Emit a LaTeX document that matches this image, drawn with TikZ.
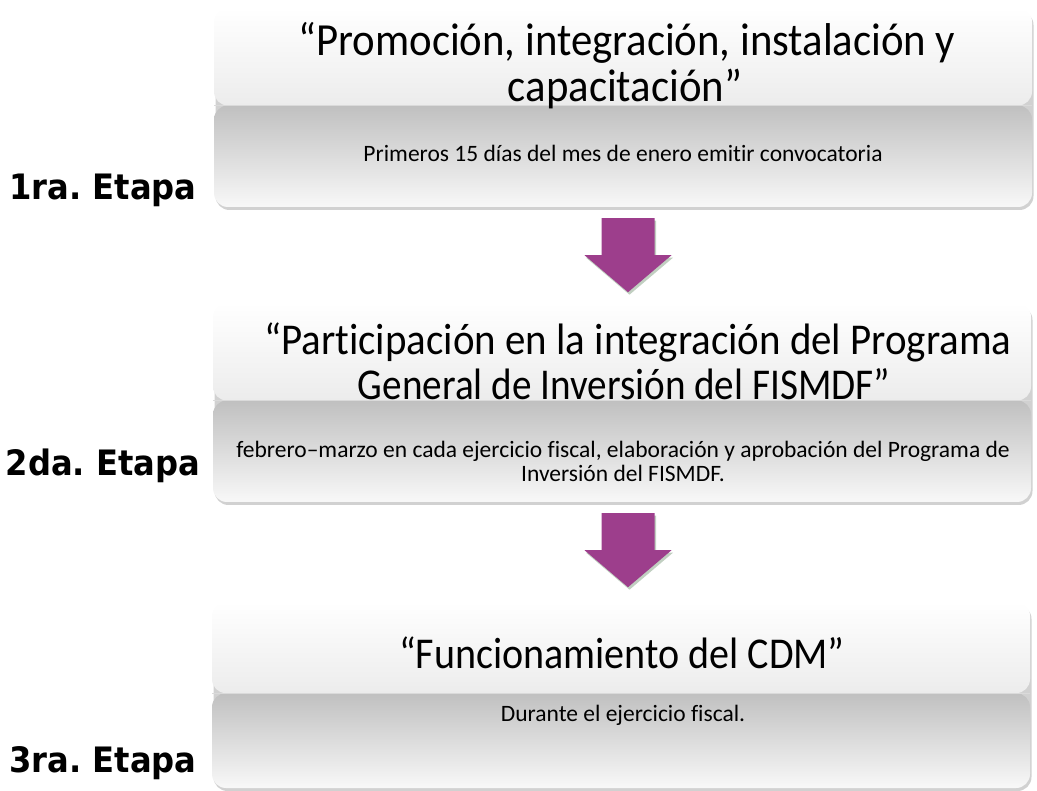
\documentclass[tikz,border=0pt]{standalone}
\usepackage{fontspec}
\setmainfont[Ligatures=NoCommon]{Carlito}
\newfontfamily\titleA[FakeStretch=0.93,Ligatures=NoCommon]{Carlito}
\newfontfamily\titleBa[FakeStretch=0.93,Ligatures=NoCommon]{Carlito}
\newfontfamily\titleBb[FakeStretch=0.89,Ligatures=NoCommon]{Carlito}
\newfontfamily\titleC[FakeStretch=0.91,Ligatures=NoCommon]{Carlito}
\newfontfamily\lblfont[FakeStretch=0.92]{DejaVu Sans}
\usetikzlibrary{calc,shadows}
\definecolor{arrowpurple}{RGB}{157,62,140}
\definecolor{boxtopend}{RGB}{236,236,236}
\definecolor{boxmidtop}{RGB}{192,192,192}
\definecolor{boxbottom}{RGB}{248,248,248}
\definecolor{dividerline}{RGB}{218,218,218}
\tikzset{
  stagebox/.style={rounded corners=14pt, inner sep=0pt, minimum width=818pt,
    drop shadow={shadow xshift=1.5pt, shadow yshift=-3pt, opacity=0.4, fill=black!45},
    path picture={
      \coordinate (ppnw) at (path picture bounding box.north west);
      \coordinate (ppse) at (path picture bounding box.south east);
      \coordinate (ppmid) at ($(path picture bounding box.north west)!0.49!(path picture bounding box.south west)$);
      \shade[top color=white, bottom color=boxtopend] (ppnw) rectangle (ppmid -| ppse);
      \shade[top color=boxmidtop, bottom color=boxbottom] (ppmid) rectangle (ppse);
      \draw[dividerline, line width=1pt] (ppmid) -- (ppmid -| ppse);
    }},
  titletext/.style={anchor=base, inner sep=0pt, text=black},
  subtext/.style={align=center, inner sep=0pt, text=black,
    font=\fontsize{23.5}{24}\selectfont},
  lbl/.style={inner sep=0pt, text=black, font=\lblfont\bfseries\fontsize{35}{40}\selectfont},
  arrowshape/.style={fill=arrowpurple},
  arrowshadow/.style={fill=black!60!green!40!gray, opacity=0.35}
}
\begin{document}
\frenchspacing
\begin{tikzpicture}[x=1pt,y=1pt]
\useasboundingbox (0,0) rectangle (1037,-791);
% boxes
\node[stagebox, minimum height=199pt] (box1) at (623,-107.5) {};
\node[stagebox, minimum height=199pt] (box2) at (622,-402.5) {};
\node[stagebox, minimum height=186pt] (box3) at (621,-695) {};
% titles and subtitles
\node[titletext, font=\titleA\fontsize{46}{48}\selectfont] (t1a) at (627,-56) {“Promoción, integración, instalación y};
\node[titletext, font=\titleA\fontsize{46}{48}\selectfont] (t1b) at (625,-102) {capacitación”};
\node[subtext] (s1) at (623,-153) {Primeros 15 días del mes de enero emitir convocatoria};
\node[titletext, font=\titleBa\fontsize{44}{48}\selectfont] (t2a) at (638,-355) {“Participación en la integración del Programa};
\node[titletext, font=\titleBb\fontsize{44}{48}\selectfont] (t2b) at (624,-400) {General de Inversión del FISMDF”};
\node[subtext] (s2) at (623,-461) {febrero–marzo en cada ejercicio fiscal, elaboración y aprobación del Programa de\\Inversión del FISMDF.};
\node[titletext, font=\titleC\fontsize{44}{48}\selectfont] (t3) at (622,-668) {“Funcionamiento del CDM”};
\node[subtext] (s3) at (623,-715) {Durante el ejercicio fiscal.};
% stage labels
\node[lbl] (l1) at (103,-190) {1ra. Etapa};
\node[lbl] (l2) at (103,-466) {2da. Etapa};
\node[lbl] (l3) at (103,-763) {3ra. Etapa};
% arrows
\coordinate (a1) at ($(box1.south)+(5,-11)$);
\coordinate (a2) at ($(box2.south)+(6,-11)$);
\foreach \a in {a1,a2}{
  \fill[arrowshadow] ($(\a)+(1.5,-2.5)$) ++(-26.5,0) -- ++(53,0) -- ++(0,-37) -- ++(17,0) -- ++(-43.5,-37) -- ++(-43.5,37) -- ++(17,0) -- cycle;
  \fill[arrowshape] (\a) ++(-26.5,0) -- ++(53,0) -- ++(0,-37) -- ++(17,0) -- ++(-43.5,-37) -- ++(-43.5,37) -- ++(17,0) -- cycle;
}
\end{tikzpicture}
\end{document}
